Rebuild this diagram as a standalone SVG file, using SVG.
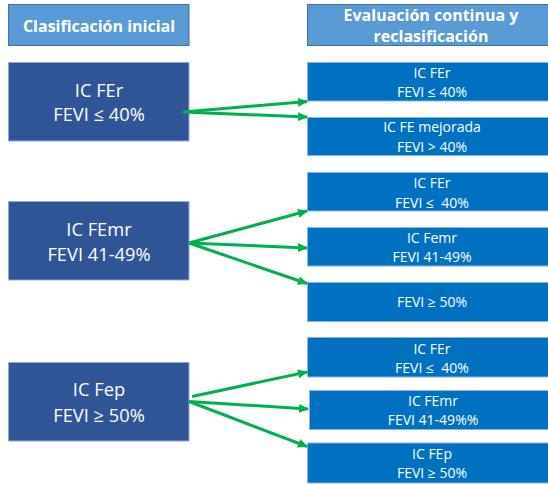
<svg xmlns="http://www.w3.org/2000/svg" width="548" height="484" viewBox="0 0 548 484">
<defs>
<style>
.hdr{fill:#5b9bd5;stroke:#41719c;stroke-width:1}
.ini{fill:#2f5597;stroke:#8faadc;stroke-width:1}
.out{fill:#0070c0;stroke:#8fb4dc;stroke-width:1}
text{fill:#ffffff;font-family:"Open Sans","Liberation Sans",sans-serif;text-anchor:middle}
.th{font-weight:bold;font-size:16px}
.tl{font-size:18.3px}
.tr{font-size:14px}
.arr{stroke:#00b050;stroke-width:3;fill:none;marker-end:url(#ah)}
</style>
<marker id="ah" markerWidth="10" markerHeight="9" refX="9" refY="4.5" orient="auto" markerUnits="userSpaceOnUse">
<path d="M0,0 L10,4.5 L0,9 Z" fill="#00b050"/>
</marker>
</defs>
<rect width="548" height="484" fill="#ffffff"/>
<g id="hdr-left"><rect class="hdr" x="8.5" y="4.5" width="180.5" height="41"/><text class="th" x="99" y="32">Clasificación inicial</text></g>
<g id="hdr-right"><rect class="hdr" x="307.5" y="4.5" width="250" height="41"/><text class="th" x="431" y="21">Evaluación continua y</text><text class="th" x="431" y="42">reclasificación</text></g>

<g id="ini1"><rect class="ini" x="8.5" y="62.5" width="180.5" height="78.5"/><text class="tl" x="99" y="97">IC FEr</text><text class="tl" x="99" y="121">FEVI ≤ 40%</text></g>
<g id="ini2"><rect class="ini" x="8.5" y="201.5" width="180.5" height="78.5"/><text class="tl" x="99" y="236">IC FEmr</text><text class="tl" x="99" y="261">FEVI 41-49%</text></g>
<g id="ini3"><rect class="ini" x="8.5" y="362.5" width="180.5" height="78.5"/><text class="tl" x="99" y="396">IC Fep</text><text class="tl" x="99" y="421.5">FEVI ≥ 50%</text></g>

<g id="out1a"><rect class="out" x="307.5" y="62.5" width="250" height="38.5"/><text class="tr" x="432" y="78">IC FEr</text><text class="tr" x="432" y="97">FEVI ≤ 40%</text></g>
<g id="out1b"><rect class="out" x="307.5" y="117.5" width="250" height="38"/><text class="tr" x="432" y="132">IC FE mejorada</text><text class="tr" x="432" y="152">FEVI &gt; 40%</text></g>

<g id="out2a"><rect class="out" x="307.5" y="172.5" width="250" height="38.5"/><text class="tr" x="432" y="188" xml:space="preserve">IC FEr</text><text class="tr" x="432" y="207.5" xml:space="preserve">FEVI ≤  40%</text></g>
<g id="out2b"><rect class="out" x="307.5" y="227.5" width="250" height="38.5"/><text class="tr" x="432" y="242.5">IC Femr</text><text class="tr" x="432" y="261.5">FEVI 41-49%</text></g>
<g id="out2c"><rect class="out" x="307.5" y="282.5" width="250" height="39"/><text class="tr" x="432" y="306.5">FEVI ≥ 50%</text></g>

<g id="out3a"><rect class="out" x="307.5" y="337.5" width="250" height="39.5"/><text class="tr" x="432" y="353.5" xml:space="preserve">IC FEr</text><text class="tr" x="432" y="372.5" xml:space="preserve">FEVI ≤  40%</text></g>
<g id="out3b"><rect class="out" x="309.5" y="390.5" width="248" height="39"/><text class="tr" x="433" y="406">IC FEmr</text><text class="tr" x="433" y="425">FEVI 41-49%%</text></g>
<g id="out3c"><rect class="out" x="307.5" y="443" width="250" height="40"/><text class="tr" x="432" y="458.5">IC FEp</text><text class="tr" x="432" y="477.5">FEVI ≥ 50%</text></g>

<g id="connectors">
<line class="arr" x1="183" y1="112" x2="307" y2="101.5"/>
<line class="arr" x1="183" y1="112" x2="307" y2="117"/>
<line class="arr" x1="189" y1="243" x2="307" y2="211"/>
<line class="arr" x1="189" y1="243" x2="307" y2="248"/>
<line class="arr" x1="189" y1="243" x2="307" y2="283.5"/>
<line class="arr" x1="192" y1="396.5" x2="307" y2="372"/>
<line class="arr" x1="189" y1="401.5" x2="308" y2="409"/>
<line class="arr" x1="189" y1="401.5" x2="307" y2="446.5"/>
</g>
</svg>
